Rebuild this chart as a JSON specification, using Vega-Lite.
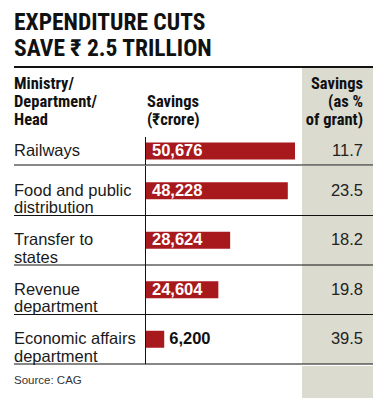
{
  "$schema": "https://vega.github.io/schema/vega-lite/v6.json",
  "padding": {"left": 13, "right": 3, "top": 10, "bottom": 0},
  "spacing": 0,
  "config": {"view": {"stroke": null}, "concat": {"spacing": 0}},
  "title": {
    "text": ["EXPENDITURE CUTS", "SAVE ₹ 2.5 TRILLION"],
    "anchor": "start",
    "frame": "group",
    "font": "Roboto Condensed, Roboto",
    "fontSize": 23.5,
    "fontWeight": "bold",
    "lineHeight": 26,
    "color": "#111111",
    "offset": 6
  },
  "datasets": {
    "rows": [
      {"dept": "Railways", "savings": 50676, "pct": 11.7},
      {"dept": "Food and public\ndistribution", "savings": 48228, "pct": 23.5},
      {"dept": "Transfer to\nstates", "savings": 28624, "pct": 18.2},
      {"dept": "Revenue\ndepartment", "savings": 24604, "pct": 19.8},
      {"dept": "Economic affairs\ndepartment", "savings": 6200, "pct": 39.5}
    ],
    "header": [
      {"line": 1, "left": "Ministry/", "mid": "", "right": "Savings"},
      {"line": 2, "left": "Department/", "mid": "Savings", "right": "(as %"},
      {"line": 3, "left": "Head", "mid": "(₹crore)", "right": "of grant)"}
    ],
    "source": [{"text": "Source: CAG"}]
  },
  "vconcat": [
    {
      "width": 359,
      "height": 70,
      "data": {"name": "header"},
      "layer": [
        {
          "mark": {"type": "rect", "color": "#dcdbd0"},
          "encoding": {"x": {"value": 288}, "x2": {"value": 359}, "y": {"value": 1}, "y2": {"value": 70}}
        },
        {
          "mark": {"type": "rule", "color": "#111111", "strokeWidth": 1.5},
          "encoding": {"x": {"value": 0}, "x2": {"value": 359}, "y": {"value": 0}}
        },
        {
          "mark": {"type": "text", "align": "left", "baseline": "middle", "font": "Roboto Condensed, Roboto", "fontWeight": "bold", "fontSize": 16.5, "color": "#111111"},
          "encoding": {
            "x": {"value": 0},
            "y": {"field": "line", "type": "ordinal", "scale": {"type": "point", "range": [17, 53], "padding": 0}, "axis": null},
            "text": {"field": "left"}
          }
        },
        {
          "mark": {"type": "text", "align": "left", "baseline": "middle", "font": "Roboto Condensed, Roboto", "fontWeight": "bold", "fontSize": 16.5, "color": "#111111"},
          "encoding": {
            "x": {"value": 133},
            "y": {"field": "line", "type": "ordinal", "scale": {"type": "point", "range": [17, 53], "padding": 0}, "axis": null},
            "text": {"field": "mid"}
          }
        },
        {
          "mark": {"type": "text", "align": "right", "baseline": "middle", "font": "Roboto Condensed, Roboto", "fontWeight": "bold", "fontSize": 16.5, "color": "#111111"},
          "encoding": {
            "x": {"value": 349},
            "y": {"field": "line", "type": "ordinal", "scale": {"type": "point", "range": [17, 53], "padding": 0}, "axis": null},
            "text": {"field": "right"}
          }
        }
      ]
    },
    {
      "width": 359,
      "height": 28,
      "data": {"name": "rows"},
      "transform": [{"filter": "datum.dept === 'Railways'"}],
      "encoding": {
        "y": {"field": "dept", "type": "nominal", "sort": null, "axis": null, "scale": {"paddingInner": 0, "paddingOuter": 0}}
      },
      "layer": [
        {"mark": {"type": "rect", "color": "#dcdbd0"}, "encoding": {"x": {"value": 288}, "x2": {"value": 359}}},
        {"mark": {"type": "rect", "color": "#111111"}, "encoding": {"x": {"value": 131}, "x2": {"value": 132}}},
        {"mark": {"type": "rule", "color": "#111111", "strokeWidth": 1}, "encoding": {"x": {"value": 0}, "x2": {"value": 359}, "y": {"field": "dept", "type": "nominal", "sort": null, "bandPosition": 1}}},
        {
          "mark": {"type": "bar", "color": "#a8191e", "size": 17},
          "encoding": {"x": {"field": "savings", "type": "quantitative", "scale": {"domain": [0, 53057], "range": [132, 288], "nice": false}, "axis": null}}
        },
        {
          "transform": [{"filter": "datum.savings >= 10000"}],
          "mark": {"type": "text", "align": "left", "baseline": "middle", "dx": 6, "font": "Liberation Sans", "fontWeight": "bold", "fontSize": 16.5, "color": "#ffffff"},
          "encoding": {"x": {"datum": 0, "type": "quantitative", "scale": {"domain": [0, 53057], "range": [132, 288], "nice": false}, "axis": null}, "text": {"field": "savings", "format": ","}}
        },
        {
          "mark": {"type": "text", "align": "left", "baseline": "middle", "lineBreak": "\n", "lineHeight": 17, "font": "Liberation Sans", "fontSize": 16.5, "color": "#1a1a1a"},
          "encoding": {"x": {"value": 0}, "text": {"field": "dept"}}
        },
        {
          "mark": {"type": "text", "align": "right", "baseline": "middle", "font": "Liberation Sans", "fontSize": 16.5, "color": "#222222"},
          "encoding": {"x": {"value": 349}, "text": {"field": "pct", "format": ".1f"}}
        }
      ]
    },
    {
      "width": 359,
      "height": 198,
      "data": {"name": "rows"},
      "transform": [{"filter": "datum.dept !== 'Railways'"}],
      "encoding": {
        "y": {"field": "dept", "type": "nominal", "sort": null, "axis": null, "scale": {"paddingInner": 0, "paddingOuter": 0}}
      },
      "layer": [
        {"mark": {"type": "rect", "color": "#dcdbd0"}, "encoding": {"x": {"value": 288}, "x2": {"value": 359}}},
        {"mark": {"type": "rect", "color": "#111111"}, "encoding": {"x": {"value": 131}, "x2": {"value": 132}}},
        {"mark": {"type": "rule", "color": "#111111", "strokeWidth": 1}, "encoding": {"x": {"value": 0}, "x2": {"value": 359}, "y": {"field": "dept", "type": "nominal", "sort": null, "bandPosition": 1}}},
        {
          "mark": {"type": "bar", "color": "#a8191e", "size": 17},
          "encoding": {"x": {"field": "savings", "type": "quantitative", "scale": {"domain": [0, 53057], "range": [132, 288], "nice": false}, "axis": null}}
        },
        {
          "transform": [{"filter": "datum.savings >= 10000"}],
          "mark": {"type": "text", "align": "left", "baseline": "middle", "dx": 6, "font": "Liberation Sans", "fontWeight": "bold", "fontSize": 16.5, "color": "#ffffff"},
          "encoding": {"x": {"datum": 0, "type": "quantitative", "scale": {"domain": [0, 53057], "range": [132, 288], "nice": false}, "axis": null}, "text": {"field": "savings", "format": ","}}
        },
        {
          "transform": [{"filter": "datum.savings < 10000"}],
          "mark": {"type": "text", "align": "left", "baseline": "middle", "dx": 5, "font": "Liberation Sans", "fontWeight": "bold", "fontSize": 16.5, "color": "#111111"},
          "encoding": {"x": {"field": "savings", "type": "quantitative", "scale": {"domain": [0, 53057], "range": [132, 288], "nice": false}, "axis": null}, "text": {"field": "savings", "format": ","}}
        },
        {
          "mark": {"type": "text", "align": "left", "baseline": "middle", "lineBreak": "\n", "lineHeight": 17.5, "font": "Liberation Sans", "fontSize": 16.5, "color": "#1a1a1a"},
          "encoding": {"x": {"value": 0}, "text": {"field": "dept"}}
        },
        {
          "mark": {"type": "text", "align": "right", "baseline": "middle", "font": "Liberation Sans", "fontSize": 16.5, "color": "#222222"},
          "encoding": {"x": {"value": 349}, "text": {"field": "pct", "format": ".1f"}}
        }
      ]
    },
    {
      "width": 359,
      "height": 33,
      "data": {"name": "source"},
      "layer": [
        {
          "mark": {"type": "rect", "color": "#dcdbd0"},
          "encoding": {"x": {"value": 288}, "x2": {"value": 359}, "y": {"value": 0}, "y2": {"value": 33}}
        },
        {
          "mark": {"type": "text", "align": "left", "baseline": "middle", "font": "Liberation Sans", "fontSize": 11.5, "color": "#333333"},
          "encoding": {"x": {"value": 0}, "y": {"value": 15}, "text": {"field": "text"}}
        }
      ]
    }
  ]
}
